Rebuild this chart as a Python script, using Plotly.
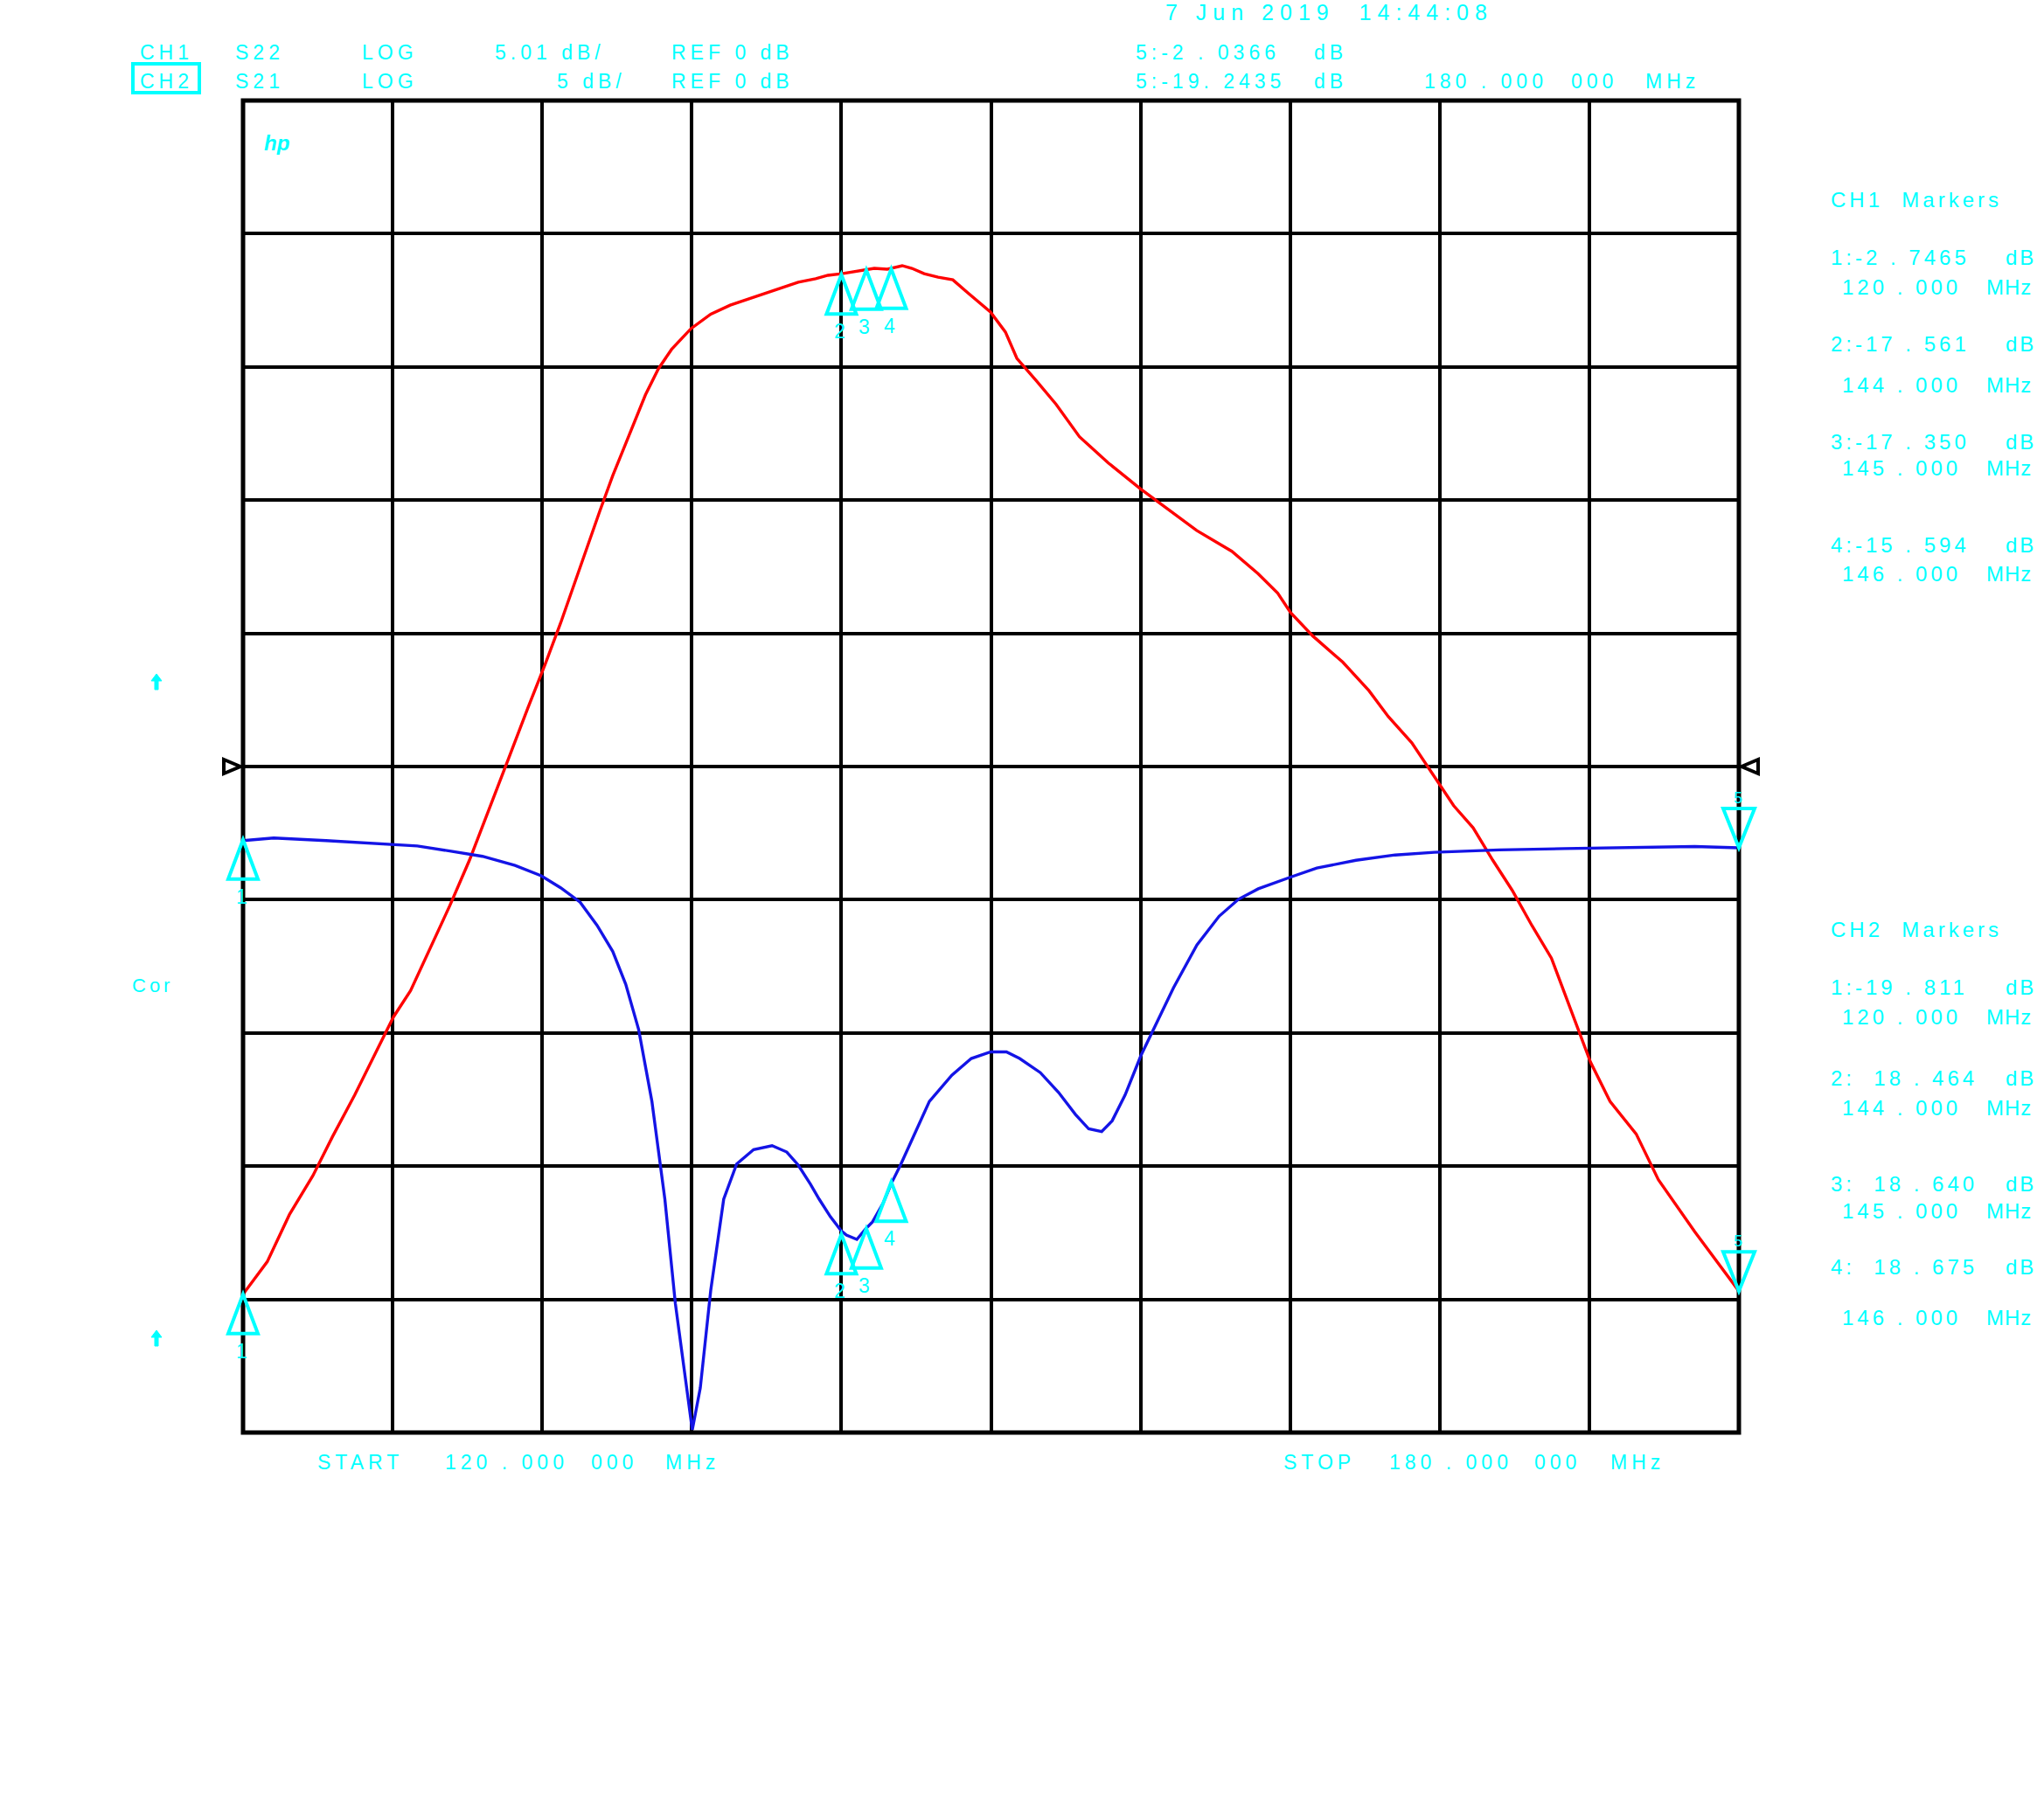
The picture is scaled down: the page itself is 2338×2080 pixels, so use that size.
import plotly.graph_objects as go

# ---------------- data ----------------
F_START, F_STOP = 120.0, 180.0          # MHz
DB_PER_DIV = 5.0
REF_DB = 0.0
N_DIV = 10
Y_MIN = REF_DB - DB_PER_DIV * N_DIV / 2
Y_MAX = REF_DB + DB_PER_DIV * N_DIV / 2

# CH2  S21 (red)
s21_freq = [120.0, 120.97, 121.86, 122.80, 123.59, 124.48, 125.31, 126.04, 126.72, 127.51,
            128.29, 129.08, 129.86, 130.65, 131.43, 132.11, 132.74, 133.52, 134.31, 134.83,
            135.51, 136.14, 136.66, 137.19, 137.97, 138.76, 139.54, 140.33, 141.11, 141.81,
            142.27, 142.97, 143.46, 144.02, 144.62, 145.32, 145.84, 146.44, 146.83, 147.32,
            147.88, 148.47, 149.07, 149.98, 150.58, 151.04, 151.82, 152.61, 153.55, 154.70,
            156.00, 157.05, 158.25, 159.66, 160.71, 161.50, 162.02, 162.91, 164.11, 165.16,
            165.94, 166.88, 167.77, 168.56, 169.34, 170.13, 170.91, 171.70, 172.48, 173.26,
            174.05, 174.83, 175.88, 176.77, 178.23, 180.0]
s21_db = [-19.81, -18.59, -16.82, -15.36, -13.89, -12.33, -10.76, -9.39, -8.41, -6.80,
          -5.23, -3.52, -1.66, 0.30, 2.21, 3.82, 5.39, 7.49, 9.59, 10.92,
          12.53, 13.95, 14.93, 15.66, 16.44, 16.98, 17.32, 17.57, 17.81, 18.01,
          18.18, 18.31, 18.44, 18.50, 18.60, 18.70, 18.67, 18.80, 18.70, 18.50,
          18.37, 18.27, 17.78, 17.06, 16.31, 15.32, 14.48, 13.60, 12.38, 11.40,
          10.42, 9.69, 8.86, 8.08, 7.24, 6.51, 5.78, 4.90, 3.92, 2.85,
          1.87, 0.89, -0.34, -1.47, -2.30, -3.52, -4.65, -5.97, -7.19, -9.15,
          -11.10, -12.57, -13.79, -15.51, -17.46, -19.69]

# CH1  S22 (blue)
s22_freq = [120.0, 121.23, 123.33, 125.42, 126.99, 128.29, 129.60, 130.91, 131.96, 132.74,
            133.52, 134.20, 134.83, 135.35, 135.87, 136.40, 136.92, 137.34, 137.71, 138.02,
            138.34, 138.76, 139.28, 139.80, 140.48, 141.22, 141.81, 142.27, 142.76, 143.11,
            143.56, 143.99, 144.20, 144.62, 144.97, 145.25, 145.67, 146.02, 146.37, 146.90,
            147.53, 148.43, 149.21, 149.99, 150.62, 151.15, 151.98, 152.71, 153.39, 153.92,
            154.44, 154.86, 155.38, 156.01, 156.69, 157.32, 158.26, 159.15, 159.93, 160.72,
            162.02, 163.07, 164.64, 166.21, 167.78, 170.39, 173.01, 175.62, 178.23, 180.0]
s22_db = [-2.78, -2.68, -2.78, -2.88, -2.98, -3.17, -3.37, -3.71, -4.10, -4.55,
          -5.09, -5.96, -6.94, -8.17, -9.88, -12.57, -16.24, -20.15, -22.84, -24.90,
          -23.33, -19.66, -16.24, -14.92, -14.38, -14.23, -14.47, -14.96, -15.68, -16.24,
          -16.90, -17.42, -17.59, -17.75, -17.36, -17.09, -16.40, -15.62, -14.96, -13.88,
          -12.57, -11.59, -10.96, -10.71, -10.71, -10.96, -11.49, -12.23, -13.06, -13.60,
          -13.70, -13.30, -12.33, -10.86, -9.53, -8.31, -6.70, -5.62, -4.98, -4.59,
          -4.15, -3.81, -3.52, -3.32, -3.22, -3.13, -3.08, -3.03, -3.00, -3.05]

# markers
marker_ids = ["1", "2", "3", "4"]
marker_freq = [120.0, 144.0, 145.0, 146.0]
ch1_marker_db = [-2.7465, -17.561, -17.350, -15.594]
ch2_marker_db = [-19.811, 18.464, 18.640, 18.675]
m5_id = "5"
m5_freq = 180.0
ch1_m5_db = -3.05
ch2_m5_db = -19.69

ch1_marker_text = ["1:-2 . 7465", "2:-17 . 561", "3:-17 . 350", "4:-15 . 594"]
ch2_marker_text = ["1:-19 . 811", "2:  18 . 464", "3:  18 . 640", "4:  18 . 675"]
marker_freq_text = ["120 . 000", "144 . 000", "145 . 000", "146 . 000"]

# ---------------- layout geometry ----------------
W, H = 2338, 2080
L, R, T, B = 278, 1989, 115, 1639
PW, PH = R - L, B - T

CYAN = "#00FFFF"
RED = "#FF0000"
BLUE = "#1414E6"
FONT = "Liberation Sans"


def d2p(f, db):
    return (L + (f - F_START) / (F_STOP - F_START) * PW,
            B - (db - Y_MIN) / (Y_MAX - Y_MIN) * PH)


def pp(X, Y):
    return (X - L) / PW, (B - Y) / PH


def path(points):
    parts = []
    for X, Y in points:
        a, b = pp(X, Y)
        parts.append(f"{a:.5f},{b:.5f}")
    return "M " + " L ".join(parts) + " Z"


fig = go.Figure()
fig.add_trace(go.Scatter(x=s21_freq, y=s21_db, mode="lines",
                         line=dict(color=RED, width=3.4), hoverinfo="skip"))
fig.add_trace(go.Scatter(x=s22_freq, y=s22_db, mode="lines",
                         line=dict(color=BLUE, width=3.4), hoverinfo="skip"))

shapes = []
annotations = []


def text(X, Y, s, size=20, ls=7, anchor="left", color=CYAN, family=FONT):
    a, b = pp(X, Y)
    t = f'<span style="letter-spacing:{ls}px">{s}</span>' if ls else s
    annotations.append(dict(x=a, y=b, xref="paper", yref="paper", text=t,
                            showarrow=False, xanchor=anchor, yanchor="middle",
                            font=dict(family=family, size=size, color=color)))


# border of the graticule
shapes.append(dict(type="rect", xref="paper", yref="paper", x0=0, x1=1, y0=0, y1=1,
                   line=dict(color="black", width=5), layer="above"))

# reference-position triangles (black)
_, yref_px = d2p(F_START, REF_DB)
shapes.append(dict(type="path", xref="paper", yref="paper", layer="above",
                   path=path([(L - 3, yref_px), (L - 22, yref_px - 8), (L - 22, yref_px + 8)]),
                   line=dict(color="black", width=4), fillcolor="white"))
shapes.append(dict(type="path", xref="paper", yref="paper", layer="above",
                   path=path([(R + 3, yref_px), (R + 22, yref_px - 8), (R + 22, yref_px + 8)]),
                   line=dict(color="black", width=4), fillcolor="white"))

# marker triangles
TRI_H, TRI_HW = 45, 17
for dbs in (ch1_marker_db, ch2_marker_db):
    for mid, f, db in zip(marker_ids, marker_freq, dbs):
        X, Y = d2p(f, db)
        shapes.append(dict(type="path", xref="paper", yref="paper", layer="above",
                           path=path([(X, Y), (X + TRI_HW, Y + TRI_H), (X - TRI_HW, Y + TRI_H)]),
                           line=dict(color=CYAN, width=4), fillcolor="rgba(0,0,0,0)"))
        text(X - 2, Y + TRI_H + 20, mid, size=23, ls=0, anchor="center")

for db in (ch1_m5_db, ch2_m5_db):
    X, Y = d2p(m5_freq, db)
    shapes.append(dict(type="path", xref="paper", yref="paper", layer="above",
                       path=path([(X, Y), (X + 18, Y - TRI_H), (X - 18, Y - TRI_H)]),
                       line=dict(color=CYAN, width=4), fillcolor="rgba(0,0,0,0)"))
    text(X - 1, Y - TRI_H - 12, m5_id, size=18, ls=0, anchor="center")

# small cyan arrows on the left
for cy in (780, 1531):
    cx = 179
    shapes.append(dict(type="path", xref="paper", yref="paper", layer="above",
                       path=path([(cx, cy - 9), (cx + 6, cy - 1), (cx + 2, cy - 1), (cx + 2, cy + 9),
                                  (cx - 2, cy + 9), (cx - 2, cy - 1), (cx - 6, cy - 1)]),
                       line=dict(color=CYAN, width=1), fillcolor=CYAN))

# CH2 box
a0, b0 = pp(152, 106)
a1, b1 = pp(228, 73)
shapes.append(dict(type="rect", xref="paper", yref="paper", x0=a0, x1=a1, y0=b0, y1=b1,
                   line=dict(color=CYAN, width=4), layer="above"))

# header
text(1331, 14, "7 Jun 2019  14:44:08", size=25, ls=7)
HS, HL = 23, 5
text(158, 60, "CH1", HS, HL)
text(267, 60, "S22", HS, HL)
text(412, 60, "LOG", HS, HL)
text(564, 60, "5.01 dB/", HS, HL)
text(766, 60, "REF 0 dB", HS, HL)
text(1297, 60, "5:-2 . 0366", HS, HL)
text(1501, 60, "dB", HS, HL)
text(158, 93, "CH2", HS, HL)
text(267, 93, "S21", HS, HL)
text(412, 93, "LOG", HS, HL)
text(635, 93, "5 dB/", HS, HL)
text(766, 93, "REF 0 dB", HS, HL)
text(1297, 93, "5:-19. 2435", HS, HL)
text(1501, 93, "dB", HS, HL)
text(1627, 93, "180 . 000", HS, HL)
text(1795, 93, "000", HS, HL)
text(1880, 93, "MHz", HS, HL)

# hp logo
text(316, 163, "<b><i>hp</i></b>", size=24, ls=0, anchor="center")

# left label
text(149, 1127, "Cor", size=22, ls=4)

# bottom
text(361, 1673, "START", HS, HL)
text(507, 1673, "120 . 000", HS, HL)
text(674, 1673, "000", HS, HL)
text(759, 1673, "MHz", HS, HL)
text(1466, 1673, "STOP", HS, HL)
text(1587, 1673, "180 . 000", HS, HL)
text(1753, 1673, "000", HS, HL)
text(1840, 1673, "MHz", HS, HL)

# right-hand marker tables
RS, RL = 24, 4
ch1_val_y = [294, 393, 505, 623]
ch1_frq_y = [328, 440, 535, 657]
ch2_val_y = [1129, 1233, 1354, 1449]
ch2_frq_y = [1163, 1267, 1385, 1507]
text(2092, 229, "CH1  Markers", RS, RL)
text(2092, 1063, "CH2  Markers", RS, RL)
for i in range(4):
    text(2092, ch1_val_y[i], ch1_marker_text[i], RS, RL)
    text(2292, ch1_val_y[i], "dB", RS, 3)
    text(2105, ch1_frq_y[i], marker_freq_text[i], RS, RL)
    text(2270, ch1_frq_y[i], "MHz", RS, 1)
    text(2092, ch2_val_y[i], ch2_marker_text[i], RS, RL)
    text(2292, ch2_val_y[i], "dB", RS, 3)
    text(2105, ch2_frq_y[i], marker_freq_text[i], RS, RL)
    text(2270, ch2_frq_y[i], "MHz", RS, 1)

fig.update_layout(
    width=W, height=H,
    margin=dict(l=L, r=W - R, t=T, b=H - B, pad=0),
    paper_bgcolor="white", plot_bgcolor="white",
    showlegend=False,
    shapes=shapes, annotations=annotations,
    xaxis=dict(range=[F_START, F_STOP], tick0=F_START, dtick=(F_STOP - F_START) / N_DIV,
               showgrid=True, gridcolor="black", gridwidth=3.5, zeroline=False,
               showticklabels=False, ticks="", showline=False, fixedrange=True),
    yaxis=dict(range=[Y_MIN, Y_MAX], tick0=Y_MIN, dtick=DB_PER_DIV,
               showgrid=True, gridcolor="black", gridwidth=3.5, zeroline=False,
               showticklabels=False, ticks="", showline=False, fixedrange=True),
)

fig.write_html("out.html", config={"displayModeBar": False},
               post_script="document.body.style.margin='0';document.body.style.overflow='hidden';")
